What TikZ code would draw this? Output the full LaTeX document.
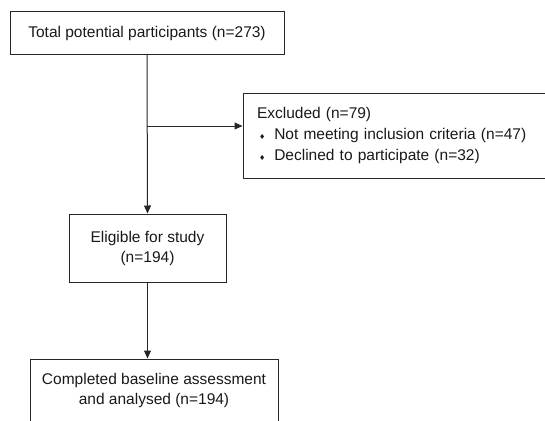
\documentclass[tikz,border=0pt]{standalone}
\usepackage{fontspec}
\setmainfont{Liberation Sans}
\newfontfamily\dejavu{DejaVu Sans}
\usetikzlibrary{arrows.meta}
\newcommand{\bul}{{\dejavu\fontsize{7}{7}\selectfont ♦}}
\begin{document}
\begin{tikzpicture}[x=1pt,y=-1pt,
  box/.style={draw=black!85,line width=1pt,rectangle,inner sep=0pt,align=center,
    font=\fontsize{15.5}{20}\selectfont,text=black!90},
  conn/.style={draw=black!85,line width=1pt},
  arr/.style={conn,-{Triangle[length=8pt,width=7pt]}}]
\clip (0,0) rectangle (545,420);
\useasboundingbox (0,0) rectangle (545,420);
\node[box,minimum width=330pt,minimum height=85pt,text width=302pt,inner xsep=14pt,align=left] (excl) at (408,135.5)
  {Excluded (n=79)\\[1pt]
   \hspace*{2pt}\bul\hspace{9pt}Not meeting inclusion criteria (n=47)\\[1pt]
   \hspace*{2pt}\bul\hspace{9pt}Declined to participate (n=32)};
\node[box,minimum width=274pt,minimum height=42pt] (top) at (147,33) {Total potential participants (n=273)};
\node[box,minimum width=157pt,minimum height=68pt] (elig) at (147.5,248) {Eligible for study\\(n=194)};
\node[box,minimum width=248pt,minimum height=63pt] (comp) at (154,390.5) {Completed baseline assessment\\and analysed (n=194)};
\coordinate (br) at (147,126);
\draw[arr] (top.south) -- (elig.north);
\draw[arr] (br) -- (br -| excl.west);
\draw[arr] (elig.south) -- (elig.south |- comp.north);
\end{tikzpicture}
\end{document}
